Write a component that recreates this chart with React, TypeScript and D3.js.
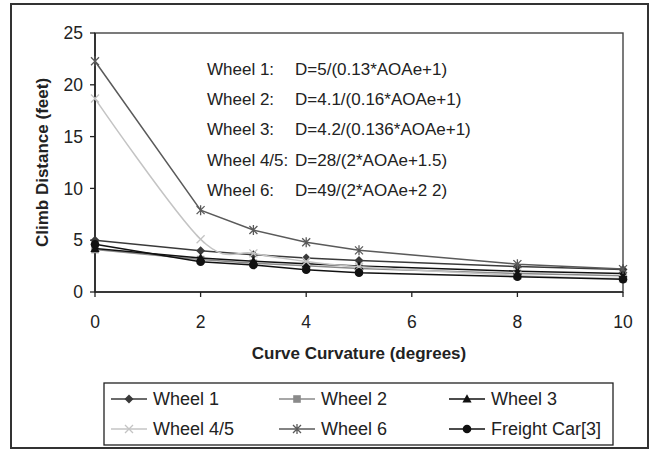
import React from "react";
import * as d3 from "d3";

const curvature = [0, 2, 3, 4, 5, 8, 10];
const wheel1 = [5.0, 3.97, 3.6, 3.29, 3.03, 2.45, 2.17];
const wheel2 = [4.1, 3.13, 2.77, 2.53, 2.28, 1.79, 1.58];
const wheel3 = [4.2, 3.28, 2.98, 2.72, 2.5, 2.01, 1.78];
const wheel45 = [18.67, 5.09, 3.73, 2.95, 2.44, 1.6, 1.3];
const wheel6 = [22.27, 7.9, 5.98, 4.8, 4.02, 2.69, 2.21];
const freight = [4.6, 2.92, 2.6, 2.15, 1.87, 1.48, 1.23];

const xTicks = [0, 2, 4, 6, 8, 10];
const yTicks = [0, 5, 10, 15, 20, 25];

const annotLabels = ["Wheel 1:", "Wheel 2:", "Wheel 3:", "Wheel 4/5:", "Wheel 6:"];
const annotFormulas = [
  "D=5/(0.13*AOAe+1)",
  "D=4.1/(0.16*AOAe+1)",
  "D=4.2/(0.136*AOAe+1)",
  "D=28/(2*AOAe+1.5)",
  "D=49/(2*AOAe+2 2)",
];

type Marker = "diamond" | "square" | "triangle" | "x" | "star" | "circle";
const seriesNames = ["Wheel 1", "Wheel 2", "Wheel 3", "Wheel 4/5", "Wheel 6", "Freight Car[3]"];
const seriesValues = [wheel1, wheel2, wheel3, wheel45, wheel6, freight];
const seriesColors = ["#3a3a3a", "#8a8a8a", "#111111", "#c4c4c4", "#5a5a5a", "#111111"];
const seriesMarkers: Marker[] = ["diamond", "square", "triangle", "x", "star", "circle"];
const seriesSmooth = [false, false, false, true, false, false];

const FONT = "'Liberation Sans', Arial, Helvetica, sans-serif";

function MarkerShape({ type, x, y, color }: { type: Marker; x: number; y: number; color: string }) {
  const s = 4.5;
  switch (type) {
    case "diamond":
      return <path d={`M${x},${y - s}L${x + s},${y}L${x},${y + s}L${x - s},${y}Z`} fill={color} />;
    case "square":
      return <rect x={x - 3.8} y={y - 3.8} width={7.6} height={7.6} fill={color} />;
    case "triangle":
      return <path d={`M${x},${y - 4.8}L${x + 4.6},${y + 3.6}L${x - 4.6},${y + 3.6}Z`} fill={color} />;
    case "x":
      return (
        <path d={`M${x - 4},${y - 4}L${x + 4},${y + 4}M${x - 4},${y + 4}L${x + 4},${y - 4}`} stroke={color} strokeWidth={1.3} fill="none" />
      );
    case "star":
      return (
        <path
          d={`M${x - 4},${y - 4}L${x + 4},${y + 4}M${x - 4},${y + 4}L${x + 4},${y - 4}M${x},${y - 5}L${x},${y + 5}`}
          stroke={color}
          strokeWidth={1.3}
          fill="none"
        />
      );
    case "circle":
      return <circle cx={x} cy={y} r={4.3} fill={color} />;
  }
}

export default function App() {
  const W = 652;
  const H = 451;
  const left = 95;
  const right = 623;
  const top = 33;
  const bottom = 292;

  const x = d3.scaleLinear().domain([0, 10]).range([left, right]);
  const y = d3.scaleLinear().domain([0, 25]).range([bottom, top]);

  const straight = d3
    .line<[number, number]>()
    .x((d) => x(d[0]))
    .y((d) => y(d[1]));
  const smooth = d3
    .line<[number, number]>()
    .x((d) => x(d[0]))
    .y((d) => y(d[1]))
    .curve(d3.curveCardinal.tension(0));

  const legendCols = [111, 279, 449];
  const legendRows = [399, 429];

  return (
    <svg width={W} height={H} style={{ position: "absolute", left: 0, top: 0 }} fontFamily={FONT}>
      <rect x={0} y={0} width={W} height={H} fill="#fff" />
      <rect x={11} y={4} width={637} height={444} fill="none" stroke="#333" strokeWidth={2} />

      {/* plot area border */}
      <rect x={left} y={top} width={right - left} height={bottom - top} fill="none" stroke="#444" strokeWidth={1.4} />
      {/* axes */}
      <line x1={left} x2={left} y1={top} y2={bottom} stroke="#222" strokeWidth={1.6} />
      <line x1={left} x2={right} y1={bottom} y2={bottom} stroke="#222" strokeWidth={1.6} />

      {yTicks.map((t) => (
        <g key={"y" + t}>
          <line x1={left - 5} x2={left} y1={y(t)} y2={y(t)} stroke="#222" strokeWidth={1.3} />
          <text x={left - 12} y={y(t)} dy="0.35em" textAnchor="end" fontSize={17.5} fill="#222">
            {t}
          </text>
        </g>
      ))}
      {xTicks.map((t) => (
        <g key={"x" + t}>
          <line x1={x(t)} x2={x(t)} y1={bottom} y2={bottom + 5} stroke="#222" strokeWidth={1.3} />
          <text x={x(t)} y={bottom + 36} textAnchor="middle" fontSize={17.5} fill="#222">
            {t}
          </text>
        </g>
      ))}

      <text x={(left + right) / 2} y={359} textAnchor="middle" fontSize={17} fontWeight="bold" fill="#222">
        Curve Curvature (degrees)
      </text>
      <text
        transform={`translate(48,${(top + bottom) / 2}) rotate(-90)`}
        textAnchor="middle"
        fontSize={17}
        fontWeight="bold"
        fill="#222"
      >
        Climb Distance (feet)
      </text>

      {annotLabels.map((l, i) => (
        <g key={"a" + i}>
          <text x={207} y={75 + i * 30.2} fontSize={17} fill="#222">
            {l}
          </text>
          <text x={295} y={75 + i * 30.2} fontSize={17} fill="#222">
            {annotFormulas[i]}
          </text>
        </g>
      ))}

      {seriesValues.map((vals, si) => {
        const pts = curvature.map((c, i) => [c, vals[i]] as [number, number]);
        const gen = seriesSmooth[si] ? smooth : straight;
        return (
          <g key={"s" + si}>
            <path d={gen(pts) || ""} fill="none" stroke={seriesColors[si]} strokeWidth={1.5} />
            {pts.map((p, i) => (
              <MarkerShape key={i} type={seriesMarkers[si]} x={x(p[0])} y={y(p[1])} color={seriesColors[si]} />
            ))}
          </g>
        );
      })}

      {/* legend */}
      <rect x={104} y={383} width={509} height={62} fill="#fff" stroke="#222" strokeWidth={1.3} />
      {seriesNames.map((n, i) => {
        const cx = legendCols[i % 3];
        const cy = legendRows[Math.floor(i / 3)];
        return (
          <g key={"l" + i}>
            <line x1={cx} x2={cx + 36} y1={cy} y2={cy} stroke={seriesColors[i]} strokeWidth={1.5} />
            <MarkerShape type={seriesMarkers[i]} x={cx + 18} y={cy} color={seriesColors[i]} />
            <text x={cx + 42} y={cy} dy="0.35em" fontSize={18} fill="#222">
              {n}
            </text>
          </g>
        );
      })}
    </svg>
  );
}
